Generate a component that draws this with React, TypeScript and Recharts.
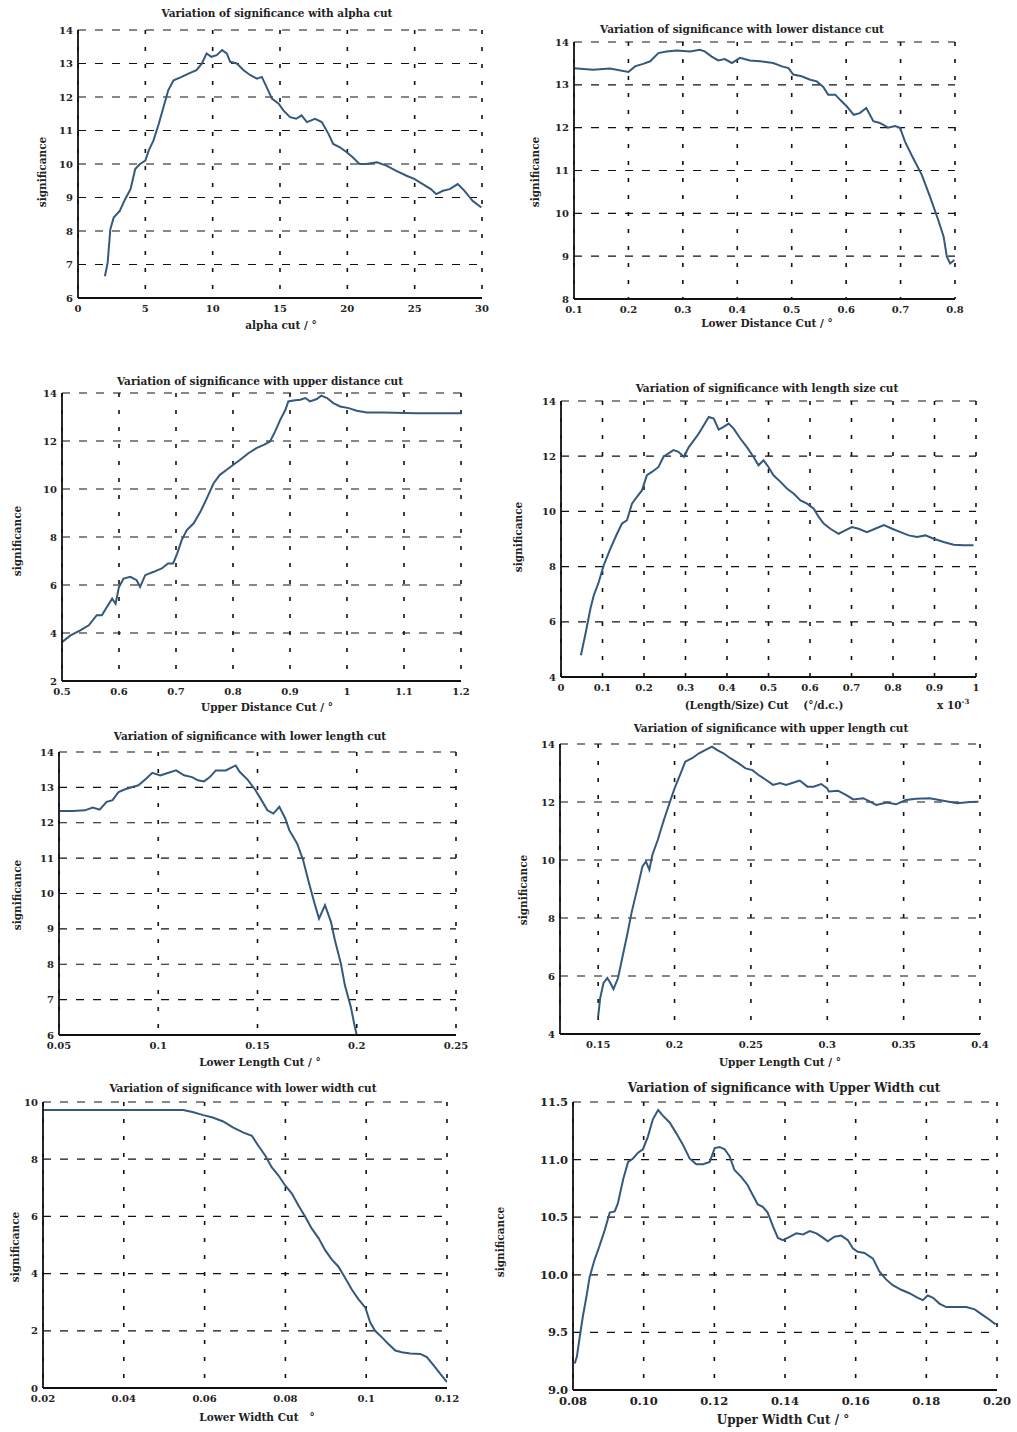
import React from "react";
import { LineChart, Line, XAxis, YAxis, CartesianGrid } from "recharts";

// ---------- DATA ----------
const alphaCut = [2, 2.2, 2.4, 2.65, 3.1, 3.5, 3.9, 4.25, 4.6, 5.0, 5.25, 5.6, 6.0, 6.35, 6.7, 7.1, 7.7, 8.2, 8.8, 9.2, 9.55, 9.9, 10.3, 10.7, 11.05, 11.3, 11.8, 12.3, 12.8, 13.3, 13.65, 14.0, 14.4, 14.9, 15.25, 15.75, 16.2, 16.6, 17.0, 17.6, 18.1, 18.6, 18.95, 19.45, 19.95, 20.4, 20.9, 21.4, 22.2, 22.9, 23.6, 24.4, 25.0, 25.6, 26.2, 26.6, 27.1, 27.6, 28.2, 28.7, 29.3, 29.95];
const alphaSig = [6.65, 7.05, 8.05, 8.4, 8.6, 8.95, 9.25, 9.85, 10.0, 10.1, 10.4, 10.7, 11.2, 11.7, 12.2, 12.5, 12.6, 12.7, 12.8, 13.0, 13.3, 13.2, 13.25, 13.4, 13.3, 13.05, 13.0, 12.8, 12.65, 12.55, 12.6, 12.3, 11.95, 11.8, 11.6, 11.4, 11.35, 11.45, 11.25, 11.35, 11.25, 10.9, 10.6, 10.5, 10.35, 10.2, 10.0, 10.0, 10.05, 9.95, 9.8, 9.65, 9.55, 9.4, 9.25, 9.1, 9.2, 9.25, 9.4, 9.2, 8.9, 8.7];

const lowerDistCut = [0.1, 0.135, 0.166, 0.2, 0.212, 0.227, 0.24, 0.255, 0.27, 0.289, 0.313, 0.331, 0.34, 0.353, 0.365, 0.377, 0.39, 0.405, 0.423, 0.442, 0.466, 0.482, 0.494, 0.503, 0.518, 0.534, 0.546, 0.558, 0.567, 0.58, 0.589, 0.601, 0.614, 0.625, 0.637, 0.65, 0.662, 0.677, 0.69, 0.699, 0.708, 0.723, 0.739, 0.754, 0.769, 0.779, 0.785, 0.791, 0.799];
const lowerDistSig = [13.39, 13.35, 13.38, 13.3, 13.43, 13.49, 13.55, 13.74, 13.78, 13.8, 13.78, 13.82, 13.78, 13.66, 13.57, 13.6, 13.51, 13.63, 13.57, 13.55, 13.51, 13.43, 13.39, 13.24, 13.2, 13.12, 13.08, 12.95, 12.77, 12.77, 12.65, 12.5, 12.3, 12.34, 12.46, 12.15, 12.11, 12.0, 12.04, 12.0, 11.68, 11.29, 10.9, 10.39, 9.85, 9.46, 8.99, 8.83, 8.91];

const upperDistCut = [0.5, 0.515, 0.532, 0.547, 0.561, 0.57, 0.579, 0.588, 0.594, 0.6, 0.608, 0.62, 0.631, 0.637, 0.646, 0.661, 0.675, 0.686, 0.695, 0.702, 0.71, 0.719, 0.731, 0.743, 0.754, 0.766, 0.777, 0.789, 0.8, 0.812, 0.827, 0.841, 0.854, 0.865, 0.874, 0.883, 0.892, 0.897, 0.906, 0.918, 0.927, 0.935, 0.947, 0.955, 0.965, 0.976, 0.988, 1.003, 1.017, 1.035, 1.064, 1.122, 1.2];
const upperDistSig = [3.62, 3.9, 4.11, 4.32, 4.74, 4.74, 5.09, 5.43, 5.22, 5.92, 6.27, 6.34, 6.2, 5.92, 6.41, 6.55, 6.69, 6.9, 6.9, 7.31, 7.87, 8.29, 8.57, 9.06, 9.61, 10.24, 10.59, 10.8, 11.0, 11.21, 11.49, 11.7, 11.84, 11.98, 12.4, 12.89, 13.3, 13.65, 13.69, 13.72, 13.79, 13.65, 13.75, 13.89, 13.79, 13.58, 13.44, 13.37, 13.26, 13.19, 13.19, 13.16, 13.16];

const lengthSizeCut = [0.048, 0.059, 0.071, 0.079, 0.091, 0.103, 0.119, 0.135, 0.147, 0.159, 0.171, 0.183, 0.195, 0.207, 0.219, 0.235, 0.247, 0.259, 0.271, 0.283, 0.296, 0.308, 0.32, 0.332, 0.344, 0.356, 0.368, 0.38, 0.392, 0.404, 0.416, 0.432, 0.448, 0.464, 0.476, 0.488, 0.5, 0.512, 0.529, 0.545, 0.561, 0.577, 0.593, 0.609, 0.621, 0.633, 0.649, 0.669, 0.685, 0.701, 0.717, 0.737, 0.757, 0.778, 0.798, 0.818, 0.838, 0.858, 0.878, 0.898, 0.922, 0.946, 0.97, 0.994];
const lengthSizeSig = [4.79, 5.57, 6.48, 6.96, 7.44, 8.05, 8.65, 9.19, 9.56, 9.68, 10.28, 10.53, 10.76, 11.31, 11.43, 11.61, 11.98, 12.1, 12.22, 12.16, 11.98, 12.33, 12.57, 12.82, 13.12, 13.42, 13.36, 12.96, 13.06, 13.18, 13.0, 12.64, 12.33, 11.97, 11.67, 11.85, 11.61, 11.31, 11.07, 10.82, 10.64, 10.4, 10.28, 10.1, 9.8, 9.56, 9.37, 9.19, 9.31, 9.43, 9.37, 9.25, 9.37, 9.5, 9.37, 9.25, 9.13, 9.07, 9.13, 9.01, 8.89, 8.79, 8.77, 8.77];

const lowerLenCut = [0.05, 0.057, 0.063, 0.067, 0.0705, 0.074, 0.077, 0.08, 0.083, 0.087, 0.09, 0.094, 0.097, 0.101, 0.104, 0.109, 0.113, 0.117, 0.12, 0.123, 0.126, 0.129, 0.134, 0.139, 0.141, 0.145, 0.149, 0.152, 0.155, 0.158, 0.161, 0.164, 0.166, 0.17, 0.173, 0.176, 0.179, 0.181, 0.184, 0.187, 0.189, 0.192, 0.194, 0.197, 0.199, 0.2];
const lowerLenSig = [12.33, 12.33, 12.35, 12.43, 12.37, 12.59, 12.64, 12.87, 12.94, 13.01, 13.06, 13.25, 13.41, 13.34, 13.39, 13.48, 13.34, 13.29, 13.2, 13.17, 13.29, 13.48, 13.48, 13.62, 13.44, 13.22, 12.92, 12.64, 12.35, 12.26, 12.45, 12.12, 11.79, 11.41, 10.94, 10.28, 9.67, 9.29, 9.67, 9.2, 8.68, 8.02, 7.41, 6.8, 6.24, 6.0];

const upperLenCut = [0.15, 0.1513, 0.1535, 0.156, 0.158, 0.16, 0.163, 0.166, 0.169, 0.172, 0.1757, 0.179, 0.1813, 0.1835, 0.1855, 0.189, 0.193, 0.197, 0.2, 0.204, 0.207, 0.2115, 0.216, 0.22, 0.2245, 0.228, 0.232, 0.2365, 0.242, 0.2465, 0.251, 0.255, 0.26, 0.2645, 0.269, 0.273, 0.278, 0.282, 0.287, 0.291, 0.296, 0.3, 0.301, 0.307, 0.3125, 0.317, 0.3235, 0.328, 0.332, 0.339, 0.345, 0.3515, 0.358, 0.367, 0.376, 0.385, 0.3935, 0.399];
const upperLenSig = [4.61, 5.24, 5.76, 5.93, 5.76, 5.55, 5.93, 6.68, 7.42, 8.22, 9.03, 9.78, 9.95, 9.66, 10.18, 10.69, 11.38, 12.01, 12.47, 12.99, 13.39, 13.51, 13.68, 13.79, 13.91, 13.79, 13.68, 13.51, 13.33, 13.16, 13.1, 12.93, 12.76, 12.59, 12.65, 12.59, 12.67, 12.74, 12.53, 12.53, 12.62, 12.47, 12.36, 12.39, 12.24, 12.09, 12.13, 12.01, 11.9, 11.98, 11.92, 12.07, 12.11, 12.13, 12.04, 11.96, 12.0, 12.01];

const lowerWidthCut = [0.02, 0.034, 0.0465, 0.0547, 0.057, 0.0597, 0.062, 0.0646, 0.067, 0.0695, 0.0717, 0.0733, 0.075, 0.0766, 0.0783, 0.0799, 0.0816, 0.0832, 0.0849, 0.0865, 0.0882, 0.0898, 0.0915, 0.0931, 0.0948, 0.0964, 0.0981, 0.0998, 0.101, 0.1022, 0.1039, 0.1055, 0.1072, 0.1088, 0.1109, 0.1134, 0.115, 0.1167, 0.1183, 0.12];
const lowerWidthSig = [9.72, 9.72, 9.72, 9.72, 9.65, 9.54, 9.46, 9.32, 9.11, 8.94, 8.82, 8.47, 8.13, 7.72, 7.43, 7.09, 6.8, 6.39, 5.99, 5.58, 5.24, 4.83, 4.49, 4.25, 3.85, 3.45, 3.1, 2.81, 2.29, 2.0, 1.77, 1.54, 1.31, 1.25, 1.21, 1.19, 1.08, 0.79, 0.5, 0.21];

const upperWidthCut = [0.0805, 0.0811, 0.0819, 0.0828, 0.0838, 0.0847, 0.0861, 0.0875, 0.089, 0.0904, 0.0918, 0.0927, 0.0942, 0.0956, 0.097, 0.0984, 0.0998, 0.1012, 0.1026, 0.1041, 0.1055, 0.1074, 0.1092, 0.1111, 0.113, 0.1149, 0.1168, 0.1187, 0.1201, 0.1215, 0.1229, 0.1243, 0.1257, 0.1276, 0.1294, 0.1309, 0.1323, 0.1337, 0.1351, 0.1366, 0.138, 0.1394, 0.1413, 0.1432, 0.1451, 0.147, 0.1489, 0.1508, 0.1521, 0.154, 0.1559, 0.1578, 0.1592, 0.1606, 0.1625, 0.1649, 0.1667, 0.1686, 0.1705, 0.1729, 0.1752, 0.1776, 0.179, 0.1804, 0.1819, 0.1837, 0.1856, 0.1885, 0.1913, 0.1937, 0.196, 0.1979, 0.1996];
const upperWidthSig = [9.23, 9.29, 9.46, 9.64, 9.81, 9.98, 10.13, 10.25, 10.39, 10.54, 10.55, 10.62, 10.83, 10.98, 11.01, 11.06, 11.09, 11.2, 11.35, 11.43, 11.38, 11.32, 11.23, 11.13, 11.01, 10.96, 10.96, 10.98, 11.1, 11.11, 11.09, 11.03, 10.91, 10.85, 10.78, 10.69, 10.61, 10.59, 10.54, 10.42, 10.32, 10.3, 10.33, 10.36, 10.35, 10.38, 10.36, 10.32, 10.29, 10.33, 10.34, 10.3, 10.23, 10.2, 10.19, 10.14, 10.03, 9.96, 9.91, 9.87, 9.84, 9.8, 9.78, 9.82, 9.8, 9.75, 9.72, 9.72, 9.72, 9.7, 9.65, 9.61, 9.57];

// tick values
const ticksAlphaX = [0, 5, 10, 15, 20, 25, 30];
const ticksAlphaY = [6, 7, 8, 9, 10, 11, 12, 13, 14];
const ticksLowerDistX = [0.1, 0.2, 0.3, 0.4, 0.5, 0.6, 0.7, 0.8];
const ticksLowerDistY = [8, 9, 10, 11, 12, 13, 14];
const ticksUpperDistX = [0.5, 0.6, 0.7, 0.8, 0.9, 1, 1.1, 1.2];
const ticksUpperDistY = [2, 4, 6, 8, 10, 12, 14];
const ticksLenSizeX = [0, 0.1, 0.2, 0.3, 0.4, 0.5, 0.6, 0.7, 0.8, 0.9, 1];
const ticksLenSizeY = [4, 6, 8, 10, 12, 14];
const ticksLowerLenX = [0.05, 0.1, 0.15, 0.2, 0.25];
const ticksLowerLenY = [6, 7, 8, 9, 10, 11, 12, 13, 14];
const ticksUpperLenX = [0.15, 0.2, 0.25, 0.3, 0.35, 0.4];
const ticksUpperLenY = [4, 6, 8, 10, 12, 14];
const ticksLowerWidthX = [0.02, 0.04, 0.06, 0.08, 0.1, 0.12];
const ticksLowerWidthY = [0, 2, 4, 6, 8, 10];
const ticksUpperWidthX = [0.08, 0.1, 0.12, 0.14, 0.16, 0.18, 0.2];
const ticksUpperWidthY = [9, 9.5, 10, 10.5, 11, 11.5];

const zip = (xs: number[], ys: number[]) => xs.map((x, i) => ({ x, y: ys[i] }));

const FONT = "'DejaVu Serif', 'Liberation Serif', serif";
const LINE = "#35587d";

type PanelProps = {
  data: { x: number; y: number }[];
  plot: { x0: number; y0: number; x1: number; y1: number };
  xDomain: [number, number];
  yDomain: [number, number];
  xTicks: number[];
  yTicks: number[];
  xFmt?: (v: number) => string;
  yFmt?: (v: number) => string;
  title: string;
  xLabel: React.ReactNode;
  titlePos: [number, number];
  xLabelPos: [number, number];
  yLabelPos: [number, number];
  big?: boolean;
  extra?: React.ReactNode;
};

const YW = 40;
const XH = 24;
const MT = 8;
const MR = 14;

function Panel(p: PanelProps) {
  const w = p.plot.x1 - p.plot.x0 + YW + MR;
  const h = p.plot.y1 - p.plot.y0 + MT + XH;
  const tickFs = p.big ? 11.5 : 10;
  const tickStyle = { fontFamily: FONT, fontSize: tickFs, fontWeight: 700, fill: "#222" };
  const textStyle: React.CSSProperties = {
    position: "absolute",
    fontFamily: FONT,
    fontWeight: 700,
    color: "#222",
    whiteSpace: "nowrap",
    transform: "translate(-50%, -50%)",
  };
  return (
    <>
      <div style={{ position: "absolute", left: p.plot.x0 - YW, top: p.plot.y0 - MT }}>
        <LineChart width={w} height={h} data={p.data} margin={{ top: MT, right: MR, bottom: 0, left: 0 }}>
          <CartesianGrid horizontal vertical={false} stroke="#111" strokeWidth={1.2} strokeDasharray="8 9" />
          <CartesianGrid horizontal={false} vertical stroke="#111" strokeWidth={1.6} strokeDasharray="4 13" />
          <XAxis
            dataKey="x"
            type="number"
            domain={p.xDomain}
            ticks={p.xTicks}
            allowDataOverflow
            interval={0}
            height={XH}
            tick={tickStyle}
            tickFormatter={p.xFmt}
            tickLine={false}
            tickSize={4}
            tickMargin={3}
            axisLine={{ stroke: "#111", strokeWidth: 1.8 }}
          />
          <YAxis
            dataKey="y"
            type="number"
            domain={p.yDomain}
            ticks={p.yTicks}
            allowDataOverflow
            interval={0}
            width={YW}
            tick={tickStyle}
            tickFormatter={p.yFmt}
            tickLine={false}
            tickSize={3}
            tickMargin={2}
            axisLine={{ stroke: "#111", strokeWidth: 1.8 }}
          />
          <XAxis
            xAxisId="top"
            orientation="top"
            type="number"
            domain={p.xDomain}
            allowDataOverflow
            height={0}
            tick={false}
            tickLine={false}
            axisLine={{ stroke: "#111", strokeWidth: 1.8 }}
          />
          <YAxis
            yAxisId="right"
            orientation="right"
            type="number"
            domain={p.yDomain}
            allowDataOverflow
            width={0}
            tick={false}
            tickLine={false}
            axisLine={{ stroke: "#111", strokeWidth: 1.8 }}
          />
          <Line
            type="linear"
            dataKey="y"
            stroke={LINE}
            strokeWidth={2}
            dot={false}
            isAnimationActive={false}
          />
        </LineChart>
      </div>
      <div style={{ ...textStyle, left: p.titlePos[0], top: p.titlePos[1], fontSize: p.big ? 12 : 10.5 }}>{p.title}</div>
      <div style={{ ...textStyle, left: p.xLabelPos[0], top: p.xLabelPos[1], fontSize: p.big ? 12 : 10.5 }}>{p.xLabel}</div>
      <div
        style={{
          ...textStyle,
          left: p.yLabelPos[0],
          top: p.yLabelPos[1],
          fontSize: 10.5,
          transform: "translate(-50%, -50%) rotate(-90deg)",
        }}
      >
        significance
      </div>
      {p.extra}
    </>
  );
}

const f2 = (v: number) => v.toFixed(2);
const f1 = (v: number) => v.toFixed(1);

export default function App() {
  return (
    <div style={{ position: "absolute", left: 0, top: 0, width: 1017, height: 1432, background: "#fff", overflow: "hidden" }}>
      <Panel
        data={zip(alphaCut, alphaSig)}
        plot={{ x0: 78, y0: 30, x1: 482, y1: 298 }}
        xDomain={[0, 30]}
        yDomain={[6, 14]}
        xTicks={ticksAlphaX}
        yTicks={ticksAlphaY}
        title="Variation of significance with alpha cut"
        xLabel="alpha cut / °"
        titlePos={[277, 13]}
        xLabelPos={[281, 325]}
        yLabelPos={[42, 172]}
      />
      <Panel
        data={zip(lowerDistCut, lowerDistSig)}
        plot={{ x0: 574, y0: 42, x1: 955, y1: 299 }}
        xDomain={[0.1, 0.8]}
        yDomain={[8, 14]}
        xTicks={ticksLowerDistX}
        yTicks={ticksLowerDistY}
        title="Variation of significance with lower distance cut"
        xLabel="Lower Distance Cut / °"
        titlePos={[742, 29]}
        xLabelPos={[767, 323]}
        yLabelPos={[535, 172]}
      />
      <Panel
        data={zip(upperDistCut, upperDistSig)}
        plot={{ x0: 62, y0: 393, x1: 461, y1: 681 }}
        xDomain={[0.5, 1.2]}
        yDomain={[2, 14]}
        xTicks={ticksUpperDistX}
        yTicks={ticksUpperDistY}
        title="Variation of significance with upper distance cut"
        xLabel="Upper Distance Cut / °"
        titlePos={[260, 381]}
        xLabelPos={[267, 707]}
        yLabelPos={[17, 541]}
      />
      <Panel
        data={zip(lengthSizeCut, lengthSizeSig)}
        plot={{ x0: 561, y0: 401, x1: 976, y1: 677 }}
        xDomain={[0, 1]}
        yDomain={[4, 14]}
        xTicks={ticksLenSizeX}
        yTicks={ticksLenSizeY}
        title="Variation of significance with length size cut"
        xLabel={"(Length/Size) Cut\u00a0\u00a0\u00a0\u00a0(°/d.c.)"}
        titlePos={[767, 388]}
        xLabelPos={[764, 705]}
        yLabelPos={[518, 537]}
        extra={
          <div
            style={{
              position: "absolute",
              left: 937,
              top: 697,
              fontFamily: FONT,
              fontWeight: 700,
              fontSize: 10.5,
              color: "#222",
              whiteSpace: "nowrap",
            }}
          >
            x 10<sup style={{ fontSize: 7 }}>-3</sup>
          </div>
        }
      />
      <Panel
        data={zip(lowerLenCut, lowerLenSig)}
        plot={{ x0: 59, y0: 752, x1: 456, y1: 1035 }}
        xDomain={[0.05, 0.25]}
        yDomain={[6, 14]}
        xTicks={ticksLowerLenX}
        yTicks={ticksLowerLenY}
        title="Variation of significance with lower length cut"
        xLabel="Lower Length Cut / °"
        titlePos={[250, 736]}
        xLabelPos={[260, 1062]}
        yLabelPos={[17, 895]}
      />
      <Panel
        data={zip(upperLenCut, upperLenSig)}
        plot={{ x0: 560, y0: 744, x1: 980, y1: 1034 }}
        xDomain={[0.125, 0.4]}
        yDomain={[4, 14]}
        xTicks={ticksUpperLenX}
        yTicks={ticksUpperLenY}
        title="Variation of significance with upper length cut"
        xLabel="Upper Length Cut / °"
        titlePos={[771, 728]}
        xLabelPos={[780, 1062]}
        yLabelPos={[523, 890]}
      />
      <Panel
        data={zip(lowerWidthCut, lowerWidthSig)}
        plot={{ x0: 43, y0: 1102, x1: 447, y1: 1388 }}
        xDomain={[0.02, 0.12]}
        yDomain={[0, 10]}
        xTicks={ticksLowerWidthX}
        yTicks={ticksLowerWidthY}
        title="Variation of significance with lower width cut"
        xLabel={"Lower Width Cut\u00a0\u00a0\u00a0°"}
        titlePos={[243, 1088]}
        xLabelPos={[257, 1417]}
        yLabelPos={[15, 1247]}
      />
      <Panel
        data={zip(upperWidthCut, upperWidthSig)}
        plot={{ x0: 573, y0: 1102, x1: 997, y1: 1390 }}
        xDomain={[0.08, 0.2]}
        yDomain={[9, 11.5]}
        xTicks={ticksUpperWidthX}
        yTicks={ticksUpperWidthY}
        xFmt={f2}
        yFmt={f1}
        title="Variation of significance with Upper Width cut"
        xLabel="Upper Width Cut / °"
        titlePos={[784, 1088]}
        xLabelPos={[783, 1420]}
        yLabelPos={[500, 1242]}
        big
      />
    </div>
  );
}
